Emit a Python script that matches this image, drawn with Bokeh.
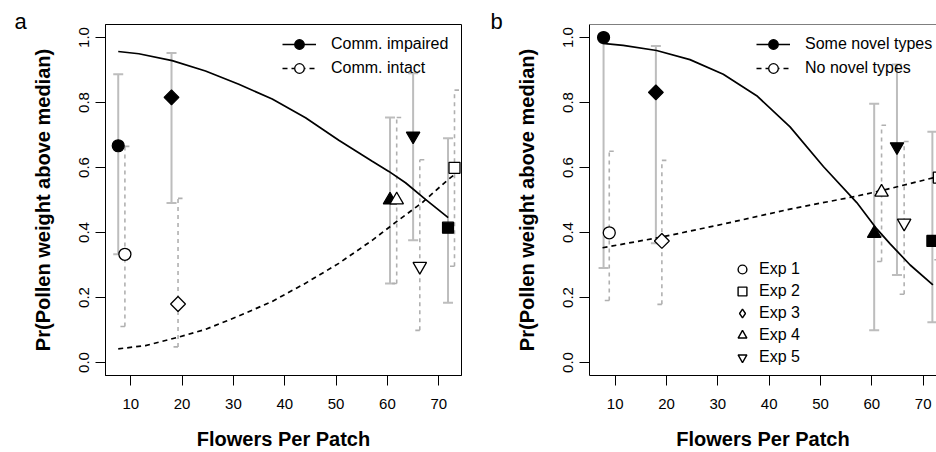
import math
from bokeh.plotting import figure
from bokeh.layouts import row
from bokeh.models import (Range1d, FixedTicker, PrintfTickFormatter, Legend, LegendItem,
                          ColumnDataSource, Label, Span)
from bokeh.embed import file_html
from bokeh.resources import INLINE

FONT = "Liberation Sans"

# ---------------- data ----------------
exp_labels = ["Exp 1", "Exp 2", "Exp 3", "Exp 4", "Exp 5"]
x_ticks = [10, 20, 30, 40, 50, 60, 70]
y_ticks = [0.0, 0.2, 0.4, 0.6, 0.8, 1.0]

# panel a : Comm. impaired (filled) / Comm. intact (open)
a_imp_x = [7.55, 71.8, 17.93, 60.5, 65.0]
a_imp_y = [0.667, 0.415, 0.816, 0.500, 0.697]
a_imp_lo = [0.333, 0.184, 0.491, 0.243, 0.376]
a_imp_hi = [0.887, 0.690, 0.952, 0.754, 0.890]

a_int_x = [8.85, 73.06, 19.2, 61.8, 66.3]
a_int_y = [0.333, 0.599, 0.180, 0.500, 0.296]
a_int_lo = [0.111, 0.296, 0.048, 0.243, 0.099]
a_int_hi = [0.665, 0.838, 0.505, 0.754, 0.624]

a_imp_curve_x = [7.55, 11.56, 18.06, 24.55, 31.04, 37.55, 44.04, 50.52, 57.03,
                 60.27, 63.52, 67.41, 71.83]
a_imp_curve_y = [0.957, 0.950, 0.929, 0.897, 0.856, 0.811, 0.753, 0.684, 0.619,
                 0.588, 0.553, 0.502, 0.446]
a_int_curve_x = [7.55, 12.86, 19.04, 24.55, 31.04, 37.55, 44.04, 50.52, 57.03,
                 61.57, 66.77, 71.83, 73.06]
a_int_curve_y = [0.042, 0.052, 0.077, 0.102, 0.143, 0.188, 0.244, 0.305, 0.376,
                 0.431, 0.492, 0.563, 0.578]

# panel b : Some novel types (filled) / No novel types (open)
b_nov_x = [7.74, 71.8, 17.93, 60.46, 64.9]
b_nov_y = [1.000, 0.374, 0.831, 0.397, 0.664]
b_nov_lo = [0.291, 0.124, 0.367, 0.099, 0.269]
b_nov_hi = [1.000, 0.710, 0.974, 0.796, 0.917]

b_non_x = [8.85, 73.06, 19.1, 61.9, 66.3]
b_non_y = [0.399, 0.569, 0.374, 0.524, 0.429]
b_non_lo = [0.191, 0.316, 0.179, 0.311, 0.210]
b_non_hi = [0.650, 0.800, 0.622, 0.730, 0.680]

b_nov_curve_x = [7.54, 11.56, 18.07, 24.57, 31.06, 37.57, 44.07, 50.56, 57.07,
                 60.97, 63.57, 67.47, 71.9]
b_nov_curve_y = [0.982, 0.976, 0.960, 0.932, 0.887, 0.821, 0.725, 0.603, 0.492,
                 0.411, 0.365, 0.300, 0.239]
b_non_curve_x = [7.54, 19.05, 31.06, 44.07, 57.07, 61.95, 71.9, 73.06]
b_non_curve_y = [0.353, 0.386, 0.426, 0.472, 0.512, 0.529, 0.568, 0.571]

# ---------------- styles ----------------
MARKERS = ["circle", "square", "square", "triangle", "inverted_triangle"]
ANGLES = [0.0, 0.0, math.pi / 4, 0.0, 0.0]
SIZES = [12, 11, 10.5, 13.5, 13.5]
LEG_MARKERS = ["circle", "square", "diamond", "triangle", "inverted_triangle"]
GRAY = "#bdbdbd"
GRAY_D = "#b0b0b0"
Y0, Y1 = -0.04, 1.04
H = 452
TOP, BOTTOM = 24, 73


def make_panel(width, border_left, border_right, x0, pxu, letter, letter_x,
               fx, fy, flo, fhi, ox, oy, olo, ohi, fcx, fcy, ocx, ocy,
               lab_f, lab_o, leg_x, outline=True, exp_legend=None):
    frame_w = width - border_left - border_right
    x1 = x0 + frame_w / pxu
    p = figure(width=width, height=H, output_backend="svg", toolbar_location=None,
               x_range=Range1d(x0, x1), y_range=Range1d(Y0, Y1),
               min_border_left=border_left, min_border_right=border_right,
               min_border_top=TOP, min_border_bottom=BOTTOM,
               background_fill_color="white", border_fill_color="white")
    p.grid.visible = False
    if outline:
        p.outline_line_color = "black"
        p.outline_line_width = 1
    else:
        p.outline_line_color = None
        p.add_layout(Span(location=Y1, dimension="width", line_color="black", line_width=1))

    for ax in (p.xaxis[0], p.yaxis[0]):
        ax.axis_line_color = "black"
        ax.axis_line_width = 1
        ax.major_tick_in = 0
        ax.major_tick_out = 10
        ax.minor_tick_in = 0
        ax.minor_tick_out = 0
        ax.major_tick_line_color = "black"
        ax.major_label_text_font = FONT
        ax.major_label_text_font_size = "15px"
        ax.major_label_text_color = "black"
        ax.axis_label_text_font = FONT
        ax.axis_label_text_font_size = "20px"
        ax.axis_label_text_font_style = "bold"
        ax.axis_label_text_color = "black"
    p.xaxis.ticker = FixedTicker(ticks=x_ticks)
    p.xaxis.formatter = PrintfTickFormatter(format="%d")
    p.yaxis.ticker = FixedTicker(ticks=y_ticks)
    p.yaxis.formatter = PrintfTickFormatter(format="%.1f")
    p.yaxis.major_label_orientation = "vertical"
    p.xaxis.axis_label = "Flowers Per Patch"
    p.yaxis.axis_label = "Pr(Pollen weight above median)"
    p.xaxis.major_label_standoff = 13
    p.yaxis.major_label_standoff = 7
    p.xaxis.axis_label_standoff = 16
    p.yaxis.axis_label_standoff = 22

    cap = 5.0 / pxu
    dcap = 4.5 / pxu

    # solid grey intervals (filled group)
    p.segment(x0=fx, y0=flo, x1=fx, y1=fhi, line_color=GRAY, line_width=2)
    p.segment(x0=[v - cap for v in fx], y0=fhi, x1=[v + cap for v in fx], y1=fhi,
              line_color=GRAY, line_width=2)
    p.segment(x0=[v - cap for v in fx], y0=flo, x1=[v + cap for v in fx], y1=flo,
              line_color=GRAY, line_width=2)
    # dashed grey intervals (open group)
    p.segment(x0=ox, y0=olo, x1=ox, y1=ohi, line_color=GRAY_D, line_width=1.6,
              line_dash="4 4")
    p.segment(x0=ox, y0=ohi, x1=[v + dcap for v in ox], y1=ohi, line_color=GRAY_D,
              line_width=1.6)
    p.segment(x0=[v - dcap for v in ox], y0=olo, x1=ox, y1=olo, line_color=GRAY_D,
              line_width=1.6)

    # fitted curves
    r_fc = p.line(fcx, fcy, line_color="black", line_width=1.7)
    r_oc = p.line(ocx, ocy, line_color="black", line_width=1.7, line_dash="5 4")

    # points
    src_f = ColumnDataSource(dict(x=fx, y=fy, m=MARKERS, a=ANGLES, s=SIZES))
    src_o = ColumnDataSource(dict(x=ox, y=oy, m=MARKERS, a=ANGLES, s=SIZES))
    p.scatter("x", "y", source=src_f, marker="m", angle="a", size="s",
              fill_color="black", line_color="black", line_width=1.2)
    p.scatter("x", "y", source=src_o, marker="m", angle="a", size="s",
              fill_color="white", line_color="black", line_width=1.3)

    # legend-only glyphs (size 0: only visible in the legend)
    r_lf = p.scatter(fx[:1], fy[:1], marker="circle", size=0, fill_color="black",
                     line_color="black", line_width=1.2)
    r_lo = p.scatter(ox[:1], oy[:1], marker="circle", size=0, fill_color="white",
                     line_color="black", line_width=1.3)
    leg = Legend(items=[LegendItem(label=lab_f, renderers=[r_fc, r_lf]),
                        LegendItem(label=lab_o, renderers=[r_oc, r_lo])],
                 location=(leg_x, 295), glyph_width=34, glyph_height=24, spacing=-1,
                 label_standoff=15, padding=0, margin=0, border_line_color=None,
                 background_fill_alpha=0, label_text_font=FONT,
                 label_text_font_size="16px", label_text_color="black")
    p.add_layout(leg)

    if exp_legend is not None:
        items = []
        for i, lab in enumerate(exp_labels):
            r = p.scatter(ox[i:i + 1], oy[i:i + 1], marker=LEG_MARKERS[i],
                          size=0, fill_color="white",
                          line_color="black", line_width=1.4)
            items.append(LegendItem(label=lab, renderers=[r]))
        leg2 = Legend(items=items, location=exp_legend, glyph_width=22, glyph_height=22,
                      spacing=0, label_standoff=6, padding=0, margin=0,
                      border_line_color=None, background_fill_alpha=0,
                      label_text_font=FONT, label_text_font_size="16px",
                      label_text_color="black")
        p.add_layout(leg2)

    # panel letter, placed in a side panel so that it is not clipped to the frame
    p.add_layout(Label(x=letter_x, y=H - TOP - BOTTOM - 1, x_units="screen",
                       y_units="screen", text=letter, text_font=FONT,
                       text_font_size="22px", text_color="black",
                       text_baseline="alphabetic"), "left")
    return p


PXU = 5.133
pa = make_panel(468, 105, 7, 5.07, PXU, "a", -2,
                a_imp_x, a_imp_y, a_imp_lo, a_imp_hi,
                a_int_x, a_int_y, a_int_lo, a_int_hi,
                a_imp_curve_x, a_imp_curve_y, a_int_curve_x, a_int_curve_y,
                "Comm. impaired", "Comm. intact", 177)
pb = make_panel(468, 121, 0, 5.0, PXU, "b", -10,
                b_nov_x, b_nov_y, b_nov_lo, b_nov_hi,
                b_non_x, b_non_y, b_non_lo, b_non_hi,
                b_nov_curve_x, b_nov_curve_y, b_non_curve_x, b_non_curve_y,
                "Some novel types", "No novel types", 167, outline=False,
                exp_legend=(142, 7))

layout = row(pa, pb)
open("out.html", "w").write(file_html(layout, INLINE))
